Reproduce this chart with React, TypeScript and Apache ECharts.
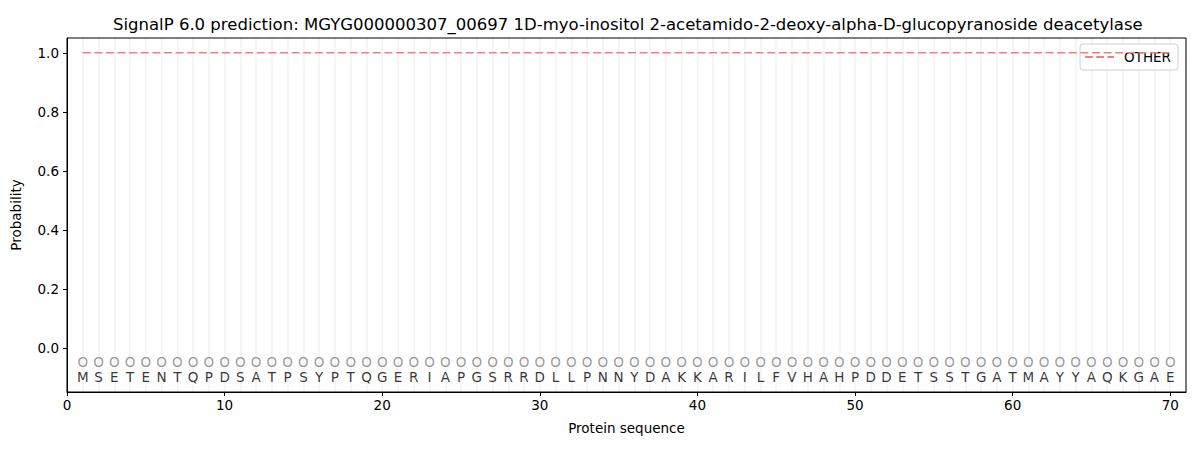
import React, { useEffect, useRef } from "react";
import * as echarts from "echarts";

// residues of the sequence, position 1..70
const residues = [
  "M", "S", "E", "T", "E", "N", "T", "Q", "P", "D",
  "S", "A", "T", "P", "S", "Y", "P", "T", "Q", "G",
  "E", "R", "I", "A", "P", "G", "S", "R", "R", "D",
  "L", "L", "P", "N", "N", "Y", "D", "A", "K", "K",
  "A", "R", "I", "L", "F", "V", "H", "A", "H", "P",
  "D", "D", "E", "T", "S", "S", "T", "G", "A", "T",
  "M", "A", "Y", "Y", "A", "Q", "K", "G", "A", "E",
];

// predicted label per residue (O = other)
const predLabels = [
  "O", "O", "O", "O", "O", "O", "O", "O", "O", "O",
  "O", "O", "O", "O", "O", "O", "O", "O", "O", "O",
  "O", "O", "O", "O", "O", "O", "O", "O", "O", "O",
  "O", "O", "O", "O", "O", "O", "O", "O", "O", "O",
  "O", "O", "O", "O", "O", "O", "O", "O", "O", "O",
  "O", "O", "O", "O", "O", "O", "O", "O", "O", "O",
  "O", "O", "O", "O", "O", "O", "O", "O", "O", "O",
];

// probability of class OTHER
const otherProb = [
  1, 1, 1, 1, 1, 1, 1, 1, 1, 1,
  1, 1, 1, 1, 1, 1, 1, 1, 1, 1,
  1, 1, 1, 1, 1, 1, 1, 1, 1, 1,
  1, 1, 1, 1, 1, 1, 1, 1, 1, 1,
  1, 1, 1, 1, 1, 1, 1, 1, 1, 1,
  1, 1, 1, 1, 1, 1, 1, 1, 1, 1,
  1, 1, 1, 1, 1, 1, 1, 1, 1, 1,
];

const xTicks = [0, 10, 20, 30, 40, 50, 60, 70];
const yTicks = [0, 0.2, 0.4, 0.6, 0.8, 1.0];

const TITLE =
  "SignalP 6.0 prediction: MGYG000000307_00697 1D-myo-inositol 2-acetamido-2-deoxy-alpha-D-glucopyranoside deacetylase";

const FONT = "DejaVu Sans";
const FS = 13.5;
const DASH_ICON = "path://M0,0h8v2h-8zM11.6,0h8v2h-8zM23.2,0h6.8v2h-6.8z";

const App: React.FC = () => {
  const chartRef = useRef<HTMLDivElement>(null);

  useEffect(() => {
    if (!chartRef.current) return;
    const chart = echarts.init(chartRef.current, null, { renderer: "svg" });

    const textSeries = (labels: string[], y: number, color: string) => ({
      type: "scatter",
      xAxisIndex: 0,
      yAxisIndex: 0,
      symbolSize: 1,
      itemStyle: { color: "rgba(0,0,0,0)" },
      silent: true,
      data: labels.map((s, i) => ({ value: [i + 1, y], name: s })),
      label: {
        show: true,
        position: "inside",
        formatter: (p: any) => p.name,
        color,
        fontFamily: FONT,
        fontSize: FS,
      },
      z: 5,
    });

    chart.setOption({
      animation: false,
      textStyle: { fontFamily: FONT },
      title: {
        text: TITLE,
        left: 108,
        top: 11,
        textStyle: { fontFamily: FONT, fontSize: 16.5, fontWeight: "normal", color: "#000" },
      },
      legend: {
        right: 22,
        top: 44,
        data: [{ name: "OTHER", icon: DASH_ICON }],
        itemWidth: 29,
        itemHeight: 2,
        itemGap: 10,
        padding: [6, 7, 6, 5],
        borderColor: "#d0d0d0",
        borderWidth: 1,
        borderRadius: 3,
        backgroundColor: "rgba(255,255,255,0.8)",
        itemStyle: { color: "#f08080", borderWidth: 0 },
        textStyle: { fontFamily: FONT, fontSize: FS, color: "#000", padding: [0, 0, 0, 5] },
      },
      grid: {
        left: 67,
        right: 14,
        top: 38,
        bottom: 58,
        show: true,
        z: 8,
        borderColor: "#000",
        borderWidth: 1,
        backgroundColor: "transparent",
      },
      xAxis: [
        {
          type: "value",
          min: 0,
          max: 71,
          name: "Protein sequence",
          nameLocation: "middle",
          nameGap: 29,
          nameTextStyle: { fontFamily: FONT, fontSize: FS, color: "#000" },
          axisLine: { show: true, onZero: false, lineStyle: { color: "#000" } },
          axisTick: { show: true, customValues: xTicks, length: 4, lineStyle: { color: "#000" } },
          axisLabel: { customValues: xTicks, fontFamily: FONT, fontSize: FS, color: "#000", margin: 6 },
          splitLine: { show: false },
        },
        {
          type: "value",
          min: 0,
          max: 71,
          interval: 1,
          position: "bottom",
          z: 0,
          axisLine: { show: false },
          axisTick: { show: false },
          axisLabel: { show: false },
          splitLine: { show: true, lineStyle: { color: "#f3f3f3", width: 1.6 } },
        },
      ],
      yAxis: {
        type: "value",
        min: -0.15,
        max: 1.05,
        name: "Probability",
        nameLocation: "middle",
        nameGap: 44,
        nameTextStyle: { fontFamily: FONT, fontSize: FS, color: "#000" },
        axisLine: { show: true, onZero: false, lineStyle: { color: "#000" } },
        axisTick: { show: true, customValues: yTicks, length: 4, lineStyle: { color: "#000" } },
        axisLabel: {
          customValues: yTicks,
          fontFamily: FONT,
          fontSize: FS,
          color: "#000",
          margin: 8,
          formatter: (v: number) => v.toFixed(1),
        },
        splitLine: { show: false },
      },
      series: [
        {
          name: "OTHER",
          type: "line",
          xAxisIndex: 0,
          data: otherProb.map((p, i) => [i + 1, p]),
          showSymbol: false,
          symbol: "none",
          color: "#f08080",
          lineStyle: { color: "#f08080", width: 1.6, type: [8, 3.6] },
          z: 4,
        },
        textSeries(predLabels, -0.047, "#808080"),
        textSeries(residues, -0.1, "#000"),
      ],
    });

    return () => {
      chart.dispose();
    };
  }, []);

  return (
    <div
      ref={chartRef}
      style={{ position: "fixed", left: 0, top: 0, width: 1200, height: 450, background: "#fff" }}
    />
  );
};

export default App;
